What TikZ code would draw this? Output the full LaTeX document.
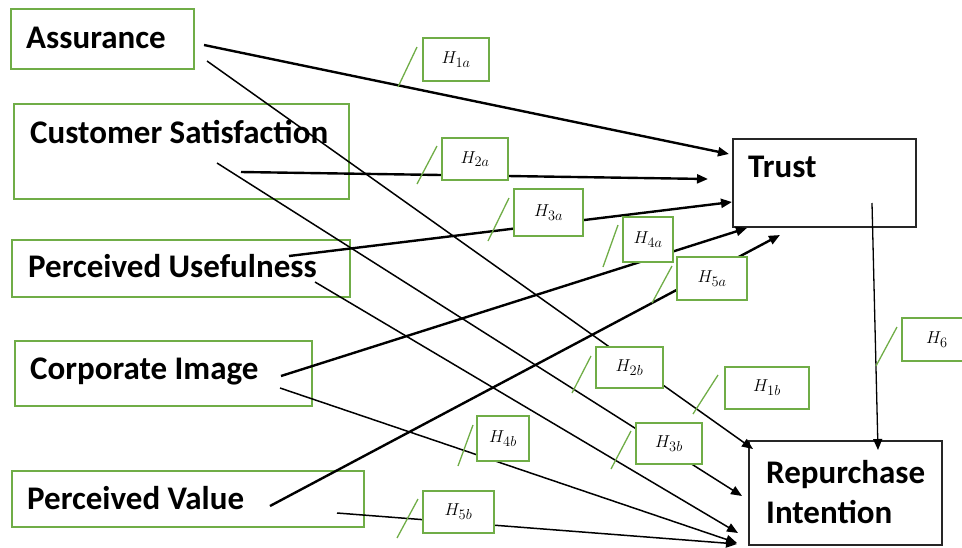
\documentclass[tikz,border=0pt]{standalone}
\usepackage{fontspec}
\setmainfont{Carlito}
\usetikzlibrary{arrows.meta,calc}
\definecolor{boxgreen}{RGB}{112,173,71}
\begin{document}
\begin{tikzpicture}[x=1pt,y=-1pt,
  srcbox/.style={draw=boxgreen,line width=1.8pt,inner sep=0pt,outer sep=0pt},
  tgtbox/.style={draw=black!85,line width=2.2pt,inner sep=0pt,outer sep=0pt},
  vartext/.style={anchor=base west,inner sep=0pt,font=\fontsize{33}{35}\selectfont\bfseries},
  hbox/.style={draw=boxgreen,fill=white,line width=1.6pt,inner sep=0pt,outer sep=0pt,
    font=\fontsize{19}{21}\selectfont},
  tick/.style={draw=boxgreen,line width=1.3pt},
  thk/.style={line width=2.4pt,-{Triangle[length=11pt,width=9pt]}},
  thn/.style={line width=1.5pt,-{Triangle[length=11pt,width=9pt]}},
]
\useasboundingbox (0,0) rectangle (962,547);

% source boxes
\node[srcbox,minimum width=183pt,minimum height=60pt] (bA) at (102.5,39) {};
\node[srcbox,minimum width=335pt,minimum height=95pt] (bCS) at (181.5,151.5) {};
\node[srcbox,minimum width=338pt,minimum height=57pt] (bPU) at (181,268.5) {};
\node[srcbox,minimum width=297pt,minimum height=65pt] (bCI) at (163.5,373.5) {};
\node[srcbox,minimum width=352pt,minimum height=56pt] (bPV) at (188,499) {};
\node[tgtbox,minimum width=183pt,minimum height=88pt] (bT) at (824.5,183) {};
\node[tgtbox,minimum width=193pt,minimum height=104pt] (bRI) at (845.5,493) {};

% texts
\node[vartext] (tA) at (26,48) {Assurance};
\node[vartext] (tCS) at (30,143) {Customer Satisfaction};
\node[vartext] (tPU) at (28,277) {Perceived Usefulness};
\node[vartext] (tCI) at (30,379) {Corporate Image};
\node[vartext] (tPV) at (27,509) {Perceived Value};
\node[vartext] (tT) at (748,177) {Trust};
\node[vartext] (tR1) at (766,483) {Repurchase};
\node[vartext] (tR2) at (766,523) {Intention};

% connector ends
\coordinate (sA1) at (204,45);   \coordinate (eA1) at (729,154);
\coordinate (sCS1) at (241,172); \coordinate (eCS1) at (708,179);
\coordinate (sPU1) at (289,256); \coordinate (ePU1) at (732,202);
\coordinate (sCI1) at (281,376); \coordinate (eCI1) at (747,228);
\coordinate (sPV1) at (270,506); \coordinate (ePV1) at (780,235);
\coordinate (sA2) at (207,61);   \coordinate (eA2) at (753,449);
\coordinate (sCS2) at (217,163); \coordinate (eCS2) at (742,496);
\coordinate (sPU2) at (315,282); \coordinate (ePU2) at (738,533);
\coordinate (sCI2) at (280,388); \coordinate (eCI2) at (737,543);
\coordinate (sPV2) at (337,513); \coordinate (ePV2) at (737,544);
\coordinate (sT) at (872,203);   \coordinate (eT) at (878,450);

\draw[thk] (sA1) -- (eA1);
\draw[thk] (sCS1) -- (eCS1);
\draw[thk] (sPU1) -- (ePU1);
\draw[thk] (sCI1) -- (eCI1);
\draw[thk] (sPV1) -- (ePV1);
\draw[thn] (sA2) -- (eA2);
\draw[thn] (sCS2) -- (eCS2);
\draw[thn] (sPU2) -- (ePU2);
\draw[thn] (sCI2) -- (eCI2);
\draw[thn] (sPV2) -- (ePV2);
\draw[thn,line width=1.3pt] (sT) -- (eT);

% hypothesis labels
\node[hbox,minimum width=66pt,minimum height=43pt] (H1a) at (456,59.5) {$H_{1a}$};
\node[hbox,minimum width=66pt,minimum height=42pt] (H2a) at (475,159) {$H_{2a}$};
\node[hbox,minimum width=69pt,minimum height=47pt] (H3a) at (548.5,212.5) {$H_{3a}$};
\node[hbox,minimum width=50pt,minimum height=45pt] (H4a) at (648,239.5) {$H_{4a}$};
\node[hbox,minimum width=70pt,minimum height=43pt] (H5a) at (712,278.5) {$H_{5a}$};
\node[hbox,minimum width=67pt,minimum height=41pt] (H2b) at (629.5,367.5) {$H_{2b}$};
\node[hbox,minimum width=84pt,minimum height=42pt] (H1b) at (767,388) {$H_{1b}$};
\node[hbox,minimum width=66pt,minimum height=41pt] (H3b) at (669,443.5) {$H_{3b}$};
\node[hbox,minimum width=52pt,minimum height=45pt] (H4b) at (503,438.5) {$H_{4b}$};
\node[hbox,minimum width=71pt,minimum height=42pt] (H5b) at (458.5,512) {$H_{5b}$};
\node[hbox,minimum width=70pt,minimum height=43pt] (H6) at (937,339.5) {$H_{6}$};

% callout ticks
\draw[tick] ($(H1a.north west)+(-6,9)$) -- ($(H1a.south west)+(-25,6)$);
\draw[tick] ($(H2a.north west)+(-5,8)$) -- ($(H2a.south west)+(-25,4)$);
\draw[tick] ($(H3a.north west)+(-5,9)$) -- ($(H3a.south west)+(-26,5)$);
\draw[tick] ($(H4a.north west)+(-5,8)$) -- ($(H4a.south west)+(-20,5)$);
\draw[tick] ($(H5a.north west)+(-5,9)$) -- ($(H5a.south west)+(-25,3)$);
\draw[tick] ($(H2b.north west)+(-5,9)$) -- ($(H2b.south west)+(-24,5)$);
\draw[tick] ($(H1b.north west)+(-7,8)$) -- ($(H1b.south west)+(-32,5)$);
\draw[tick] ($(H3b.north west)+(-5,8)$) -- ($(H3b.south west)+(-25,5)$);
\draw[tick] ($(H4b.north west)+(-4,9)$) -- ($(H4b.south west)+(-19,5)$);
\draw[tick] ($(H5b.north west)+(-5,8)$) -- ($(H5b.south west)+(-26,5)$);
\draw[tick] ($(H6.north west)+(-5,9)$) -- ($(H6.south west)+(-26,5)$);
\end{tikzpicture}
\end{document}
